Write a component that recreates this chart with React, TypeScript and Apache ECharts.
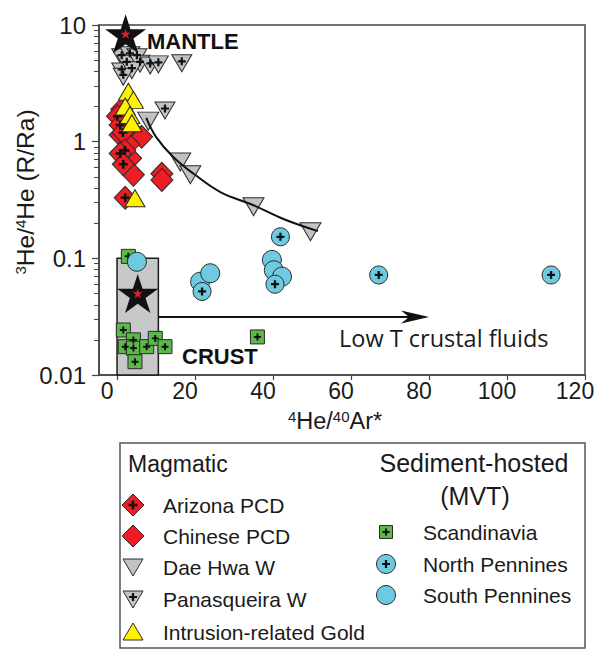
import React, { useEffect, useRef } from "react";
import * as echarts from "echarts";

// ---------- data ----------
const xTickValues = [0, 20, 40, 60, 80, 100, 120];
const yMinorTickValues = [
  0.02, 0.03, 0.04, 0.05, 0.06, 0.07, 0.08, 0.09,
  0.2, 0.3, 0.4, 0.5, 0.6, 0.7, 0.8, 0.9,
  2, 3, 4, 5, 6, 7, 8, 9,
];

const arizonaPCD = [[0.1, 1.65], [0.8, 1.39], [1.5, 1.2], [2.0, 0.84], [0.8, 0.79], [1.6, 0.64], [2.1, 0.33]];
const chinesePCD = [[1.2, 1.9], [0.8, 1.14], [3.2, 1.3], [6.3, 1.1], [3.0, 0.95], [3.5, 0.72], [4.2, 0.52], [11.5, 0.53], [11.5, 0.47]];
const daeHwaW = [[8, 1.5], [16.2, 0.67], [18.8, 0.52], [35, 0.277], [49.6, 0.169]];
const panasqueiraW = [[1.2, 5.3], [3.3, 5.5], [5.1, 5.3], [2.5, 4.65], [5.9, 4.65], [8.5, 4.5], [10.6, 4.6], [1.2, 4.0], [3.8, 4.1], [1.6, 3.6], [16.6, 4.7], [12.3, 1.85]];
const intrusionGold = [[2.9, 2.68], [4.2, 2.28], [2.1, 2.0], [3.3, 1.69], [3.8, 1.44], [4.6, 0.327]];
const scandinavia = [[2.9, 0.104], [1.6, 0.0243], [4.2, 0.02], [2.1, 0.0175], [4.2, 0.017], [7.6, 0.0175], [9.8, 0.0206], [12.3, 0.0175], [4.6, 0.013], [36, 0.0212]];
const northPennines = [[41.9, 0.153], [67.1, 0.072], [111.3, 0.072], [21.8, 0.052], [40.5, 0.06]];
const southPennines = [[5.1, 0.0935], [21.3, 0.063], [23.9, 0.0745], [39.7, 0.097], [40.2, 0.079], [42.3, 0.0697]];
const mixingCurve = [[7.5, 1.6], [10, 1.1], [14.4, 0.74], [20, 0.52], [26.5, 0.37], [35, 0.285], [43, 0.215], [51.5, 0.171]];
const mantle = [[2.2, 8.4]];
const crust = [[5.3, 0.05]];
const crustBox = [[0, 0.01, 10.6, 0.1]];
const crustArrow = [[10.6, 0.0314, 80, 0.0314]];

const magmaticNames = ["Arizona PCD", "Chinese PCD", "Dae Hwa W", "Panasqueira W", "Intrusion-related Gold"];
const sedimentNames = ["Scandinavia", "North Pennines", "South Pennines"];

// ---------- styles ----------
const FONT = "'Liberation Sans', Arial, Helvetica, sans-serif";
const RED = "#ee1d25";
const GRAY = "#c2c2c4";
const YELLOW = "#fff200";
const GREEN = "#5cb848";
const CYAN = "#6dcae0";
const EDGE = "#2b2b2b";

const PLUS = "path://M3.6,0H6.4V3.6H10V6.4H6.4V10H3.6V6.4H0V3.6H3.6Z";
const STAR = "path://M50,0L61.23,34.55L97.55,34.55L68.17,55.9L79.39,90.45L50,69.1L20.61,90.45L31.83,55.9L2.45,34.55L38.77,34.55Z";
const TRI_DOWN = "path://M0,0L20,0L10,17Z";
const TRI_UP = "path://M10,0L20,17L0,17Z";

function scatter(name: string, data: number[][], symbol: string, size: any, color: string) {
  return {
    type: "scatter",
    name,
    data,
    symbol,
    symbolSize: size,
    itemStyle: { color, borderColor: EDGE, borderWidth: 1, opacity: 1 },
    silent: true,
  };
}
function plusOverlay(data: number[][], size: number, offset: number[] = [0, 0]) {
  return {
    type: "scatter",
    data,
    symbol: PLUS,
    symbolSize: size,
    symbolOffset: offset,
    itemStyle: { color: "#111", opacity: 1 },
    silent: true,
  };
}
function star(data: number[][], size: number[], color: string) {
  return {
    type: "scatter", data, symbol: STAR, symbolSize: size, silent: true,
    itemStyle: { color, opacity: 1, borderWidth: 0 },
  };
}

function plusPoly(cx: number, cy: number, s: number, t: number) {
  const a = s / 2, b = t / 2;
  return [
    [cx - b, cy - a], [cx + b, cy - a], [cx + b, cy - b], [cx + a, cy - b], [cx + a, cy + b], [cx + b, cy + b],
    [cx + b, cy + a], [cx - b, cy + a], [cx - b, cy + b], [cx - a, cy + b], [cx - a, cy - b], [cx - b, cy - b],
  ];
}

function buildLegend() {
  const G: any[] = [];
  const stroke = { stroke: EDGE, lineWidth: 1 };
  const text = (x: number, y: number, t: string, size: number, align = "left") =>
    G.push({
      type: "text", x, y, z: 20,
      style: { text: t, fill: "#1a1a1a", fontSize: size, fontFamily: FONT, align, textAlign: align, verticalAlign: "middle", textVerticalAlign: "middle" },
    });
  G.push({ type: "rect", z: 19, shape: { x: 120, y: 443, width: 465, height: 205 }, style: { fill: "none", stroke: "#555", lineWidth: 1.5 } });
  text(128, 464, "Magmatic", 23);
  text(474, 463, "Sediment-hosted", 25, "center");
  text(475, 496, "(MVT)", 25, "center");
  const rows1 = [505, 536, 567, 599, 632];
  const rows2 = [532, 564, 595];
  const cx1 = 133, tx1 = 163, cx2 = 386, tx2 = 423;
  magmaticNames.forEach((n, i) => text(tx1, rows1[i], n, 21));
  sedimentNames.forEach((n, i) => text(tx2, rows2[i], n, 21));
  const poly = (pts: number[][], fill: string) => G.push({ type: "polygon", z: 20, shape: { points: pts }, style: { fill, ...stroke } });
  const plus = (cx: number, cy: number, s: number) => G.push({ type: "polygon", z: 21, shape: { points: plusPoly(cx, cy, s, s * 0.28) }, style: { fill: "#111" } });
  let y = rows1[0];
  poly([[cx1, y - 11], [cx1 + 11, y], [cx1, y + 11], [cx1 - 11, y]], RED); plus(cx1, y, 9);
  y = rows1[1];
  poly([[cx1, y - 11], [cx1 + 11, y], [cx1, y + 11], [cx1 - 11, y]], RED);
  y = rows1[2];
  poly([[cx1 - 10, y - 8], [cx1 + 10, y - 8], [cx1, y + 9]], GRAY);
  y = rows1[3];
  poly([[cx1 - 10, y - 8], [cx1 + 10, y - 8], [cx1, y + 9]], GRAY); plus(cx1, y - 2, 8);
  y = rows1[4];
  poly([[cx1, y - 9], [cx1 + 10, y + 8], [cx1 - 10, y + 8]], YELLOW);
  y = rows2[0];
  G.push({ type: "rect", z: 20, shape: { x: cx2 - 6.5, y: y - 6.5, width: 13, height: 13 }, style: { fill: GREEN, ...stroke } }); plus(cx2, y, 7);
  y = rows2[1];
  G.push({ type: "circle", z: 20, shape: { cx: cx2, cy: y, r: 9.5 }, style: { fill: CYAN, ...stroke } }); plus(cx2, y, 8);
  y = rows2[2];
  G.push({ type: "circle", z: 20, shape: { cx: cx2, cy: y, r: 9.5 }, style: { fill: CYAN, ...stroke } });
  return G;
}

export default function App() {
  const ref = useRef<HTMLDivElement>(null);
  useEffect(() => {
    document.body.style.margin = "0";
    const chart = echarts.init(ref.current!, undefined, { renderer: "svg" });
    const option: any = {
      animation: false,
      backgroundColor: "#ffffff",
      grid: { left: 99, right: 17, top: 25, bottom: 276, show: true, borderColor: "#444", borderWidth: 1.5, backgroundColor: "transparent" },
      xAxis: {
        type: "value",
        min: -4.625,
        max: 120,
        splitLine: { show: false },
        axisLine: { show: true, onZero: false, lineStyle: { color: "#444", width: 1.5 } },
        axisTick: { show: true, inside: false, length: 5, customValues: xTickValues, lineStyle: { color: "#444", width: 1.2 } },
        axisLabel: { customValues: xTickValues, fontSize: 23, fontFamily: FONT, color: "#1a1a1a", margin: 4, padding: [0, 20, 0, 0] },
      },
      yAxis: [
        {
          type: "log",
          logBase: 10,
          min: 0.01,
          max: 10,
          splitLine: { show: false },
          axisLine: { show: true, onZero: false, lineStyle: { color: "#444", width: 1.5 } },
          axisTick: { show: true, inside: false, length: 7, lineStyle: { color: "#444", width: 1.2 } },
          axisLabel: { fontSize: 24, fontFamily: FONT, color: "#1a1a1a", margin: 13, padding: [0, 0, 8, 0] },
        },
        {
          type: "value",
          min: -2,
          max: 1,
          position: "left",
          splitLine: { show: false },
          axisLine: { show: false, onZero: false },
          axisLabel: { show: false },
          axisTick: {
            show: true, inside: false, length: 5,
            customValues: yMinorTickValues.map((v) => Math.log10(v)),
            lineStyle: { color: "#444", width: 1 },
          },
        },
      ],
      series: [
        {
          type: "custom",
          data: crustBox,
          silent: true,
          renderItem: (params: any, api: any) => {
            const p0 = api.coord([api.value(0), api.value(3)]);
            const p1 = api.coord([api.value(2), api.value(1)]);
            return {
              type: "rect",
              shape: { x: p0[0], y: p0[1], width: p1[0] - p0[0], height: p1[1] - p0[1] },
              style: { fill: "#c8c8ca", stroke: "#1a1a1a", lineWidth: 1.5 },
            };
          },
        },
        {
          type: "custom",
          data: crustArrow,
          silent: true,
          renderItem: (params: any, api: any) => {
            const a = api.coord([api.value(0), api.value(1)]);
            const b = api.coord([api.value(2), api.value(3)]);
            const tx = b[0], ty = b[1];
            return {
              type: "group",
              children: [
                { type: "line", shape: { x1: a[0], y1: a[1], x2: tx - 18, y2: ty }, style: { stroke: "#111", lineWidth: 2 } },
                { type: "polygon", shape: { points: [[tx, ty], [tx - 28, ty - 6.5], [tx - 20, ty], [tx - 28, ty + 6.5]] }, style: { fill: "#111" } },
              ],
            };
          },
        },
        {
          type: "line",
          data: mixingCurve,
          smooth: 0.4,
          symbol: "none",
          silent: true,
          lineStyle: { color: "#111", width: 2 },
        },
        scatter("Panasqueira W", panasqueiraW, TRI_DOWN, [20, 17], GRAY),
        plusOverlay(panasqueiraW, 8, [0, -2]),
        scatter("Dae Hwa W", daeHwaW, TRI_DOWN, [21, 18], GRAY),
        scatter("Chinese PCD", chinesePCD, "diamond", [22, 23], RED),
        scatter("Arizona PCD", arizonaPCD, "diamond", [22, 23], RED),
        plusOverlay(arizonaPCD, 9),
        scatter("Intrusion-related Gold", intrusionGold, TRI_UP, [20, 17], YELLOW),
        scatter("Scandinavia", scandinavia, "rect", [14, 14], GREEN),
        plusOverlay(scandinavia, 7),
        star(crust, [41, 39], "#111"),
        star(crust, [10, 9.5], "#e8202a"),
        scatter("South Pennines", southPennines, "circle", 19, CYAN),
        scatter("North Pennines", northPennines, "circle", 18, CYAN),
        plusOverlay(northPennines, 8),
        star(mantle, [41, 39], "#111"),
        star(mantle, [10, 9.5], "#e8202a"),
      ],
      graphic: [
        {
          type: "text", x: 147, y: 41, z: 20,
          style: { text: "MANTLE", fill: "#111", fontSize: 22, fontWeight: "bold", fontFamily: FONT, align: "left", textAlign: "left", verticalAlign: "middle", textVerticalAlign: "middle" },
        },
        {
          type: "text", x: 182, y: 356, z: 20,
          style: { text: "CRUST", fill: "#111", fontSize: 22, fontWeight: "bold", fontFamily: FONT, align: "left", textAlign: "left", verticalAlign: "middle", textVerticalAlign: "middle" },
        },
        {
          type: "text", x: 339, y: 338, z: 20,
          style: { text: "Low T crustal fluids", fill: "#1a1a1a", fontSize: 23.5, fontFamily: "'Open Sans', 'Noto Sans', sans-serif", align: "left", textAlign: "left", verticalAlign: "middle", textVerticalAlign: "middle" },
        },
        {
          type: "text", x: 25, y: 192, z: 20, rotation: Math.PI / 2,
          style: {
            text: "{sup|3}He/{sup|4}He (R/Ra)",
            fill: "#1a1a1a", fontSize: 24.5, fontFamily: FONT, align: "center", textAlign: "center", verticalAlign: "middle", textVerticalAlign: "middle",
            rich: { sup: { fontSize: 15, fontFamily: FONT, fill: "#1a1a1a", verticalAlign: "top", lineHeight: 14 } },
          },
        },
        {
          type: "text", x: 335, y: 421, z: 20,
          style: {
            text: "{sup|4}He/{sup|40}Ar*",
            fill: "#1a1a1a", fontSize: 23.5, fontFamily: FONT, align: "center", textAlign: "center", verticalAlign: "middle", textVerticalAlign: "middle",
            rich: { sup: { fontSize: 15, fontFamily: FONT, fill: "#1a1a1a", verticalAlign: "top", lineHeight: 14 } },
          },
        },
        ...buildLegend(),
      ],
    };
    chart.setOption(option);
    return () => chart.dispose();
  }, []);
  return <div ref={ref} style={{ width: 602, height: 651 }} />;
}
